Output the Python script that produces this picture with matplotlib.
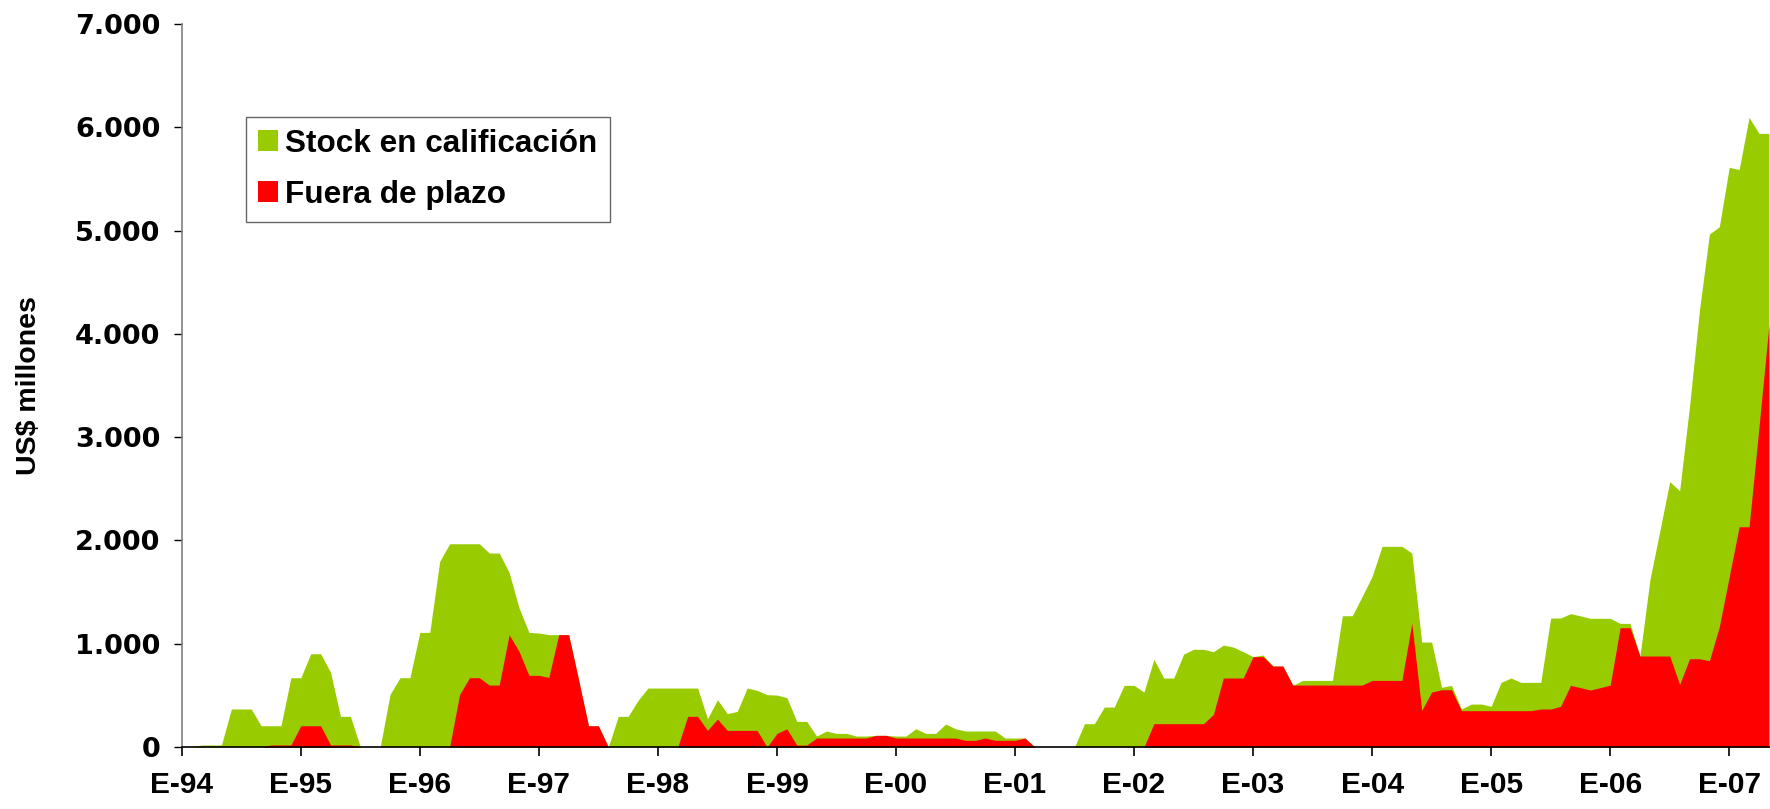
import matplotlib.pyplot as plt
import numpy as np
from matplotlib.patches import Patch
from matplotlib.ticker import FuncFormatter

# Serie mensual, enero 1994 a mayo 2007 (US$ millones)
stock = [
    0, 0, 20, 20, 20, 368, 368, 368, 206, 206, 206, 671,              # 1994
    671, 903, 903, 723, 297, 297, 0, 0, 0, 510, 671, 671,              # 1995
    1110, 1110, 1797, 1968, 1968, 1968, 1968, 1878, 1878, 1691, 1346, 1110,  # 1996
    1104, 1088, 1088, 1088, 652, 206, 206, 0, 297, 297, 452, 571,      # 1997
    571, 571, 571, 571, 571, 274, 458, 323, 345, 571, 549, 507,        # 1998
    503, 478, 248, 248, 106, 155, 132, 132, 106, 106, 113, 113,        # 1999
    106, 106, 177, 132, 132, 223, 177, 155, 155, 155, 155, 87,         # 2000
    87, 87, 0, 0, 0, 0, 0, 226, 226, 387, 387, 597,                    # 2001
    597, 532, 849, 668, 668, 900, 946, 946, 923, 987, 968, 923,        # 2002
    875, 891, 784, 784, 597, 645, 645, 645, 645, 1271, 1271, 1459,     # 2003
    1652, 1943, 1943, 1943, 1878, 1016, 1016, 578, 597, 368, 416, 416,  # 2004
    394, 626, 668, 626, 626, 626, 1249, 1249, 1291, 1270, 1246, 1246,  # 2005
    1246, 1197, 1197, 881, 1617, 2090, 2569, 2482, 3300, 4230, 4966, 5037,  # 2006
    5612, 5592, 6096, 5941, 5941,                                      # 2007
]
fuera = [
    0, 0, 0, 0, 0, 0, 0, 0, 0, 20, 20, 20,
    206, 206, 206, 20, 20, 20, 0, 0, 0, 0, 0, 0,
    0, 0, 0, 0, 507, 671, 671, 600, 600, 1088, 926, 694,
    694, 674, 1088, 1088, 652, 206, 206, 0, 0, 0, 0, 0,
    0, 0, 0, 297, 297, 161, 271, 161, 161, 161, 161, 0,
    132, 177, 19, 19, 87, 87, 87, 87, 87, 87, 113, 113,
    87, 87, 87, 87, 87, 87, 87, 65, 65, 87, 65, 65,
    65, 87, 0, 0, 0, 0, 0, 0, 0, 0, 0, 0,
    0, 0, 226, 226, 226, 226, 226, 226, 316, 668, 668, 668,
    875, 875, 784, 784, 600, 600, 600, 600, 600, 600, 600, 600,
    645, 645, 645, 645, 1200, 355, 532, 555, 555, 352, 352, 352,
    352, 352, 352, 352, 352, 368, 368, 394, 597, 575, 552, 575,
    600, 1155, 1155, 881, 881, 881, 881, 607, 855, 855, 836, 1165,
    1650, 2133, 2133, 3100, 4085,
]
etiquetas = ["E-94", "E-95", "E-96", "E-97", "E-98", "E-99", "E-00",
             "E-01", "E-02", "E-03", "E-04", "E-05", "E-06", "E-07"]

verde = "#99CC00"
rojo = "#FF0000"

meses = np.arange(len(stock))

fig = plt.figure(figsize=(17.7, 8.09), dpi=100)
ax = fig.add_axes([0.1027, 0.0766, 0.8973, 0.8937])

ax.fill_between(meses, stock, 0, color=verde, linewidth=0)
ax.fill_between(meses, fuera, 0, color=rojo, linewidth=0)

ax.set_xlim(0, 160.11)
ax.set_ylim(0, 7000)

ax.set_xticks(np.arange(0, len(stock), 12))
ax.set_xticklabels(etiquetas, fontfamily="Liberation Sans", fontweight="bold", fontsize=21.5)
ax.set_yticks(np.arange(0, 7001, 1000))
ax.yaxis.set_major_formatter(FuncFormatter(lambda v, p: f"{int(v):,}".replace(",", ".")))
for t in ax.get_yticklabels():
    t.set_fontfamily("DejaVu Sans")
    t.set_fontweight("bold")
    t.set_fontsize(19.5)

ax.tick_params(axis="x", direction="out", length=6.5, width=1.2, pad=10.5, colors="black")
ax.tick_params(axis="y", direction="out", length=6, width=1.0, pad=9.5, colors="black")

for s in ["top", "right"]:
    ax.spines[s].set_visible(False)
ax.spines["left"].set_color("#808080")
ax.spines["left"].set_linewidth(1.2)
ax.spines["bottom"].set_color("black")
ax.spines["bottom"].set_linewidth(1.2)

ax.set_ylabel("US$ millones", fontfamily="Liberation Sans", fontweight="bold", fontsize=20.5)
ax.yaxis.set_label_coords(-0.088, 0.5)

handles = [Patch(facecolor=verde, edgecolor="none"), Patch(facecolor=rojo, edgecolor="none")]
leg = ax.legend(handles, ["Stock en calificación", "Fuera de plazo"],
                loc="upper left", bbox_to_anchor=(245.7 / 1770, 1 - 116.7 / 809),
                bbox_transform=fig.transFigure, borderaxespad=0,
                prop={"family": "Liberation Sans", "weight": "bold", "size": 22.7},
                handlelength=0.63, handleheight=0.63, handletextpad=0.25,
                borderpad=0.38, labelspacing=0.67, fancybox=False, framealpha=1)
leg.get_frame().set_edgecolor("#666666")
leg.get_frame().set_linewidth(1.0)

fig.savefig("out.png", dpi=100)
